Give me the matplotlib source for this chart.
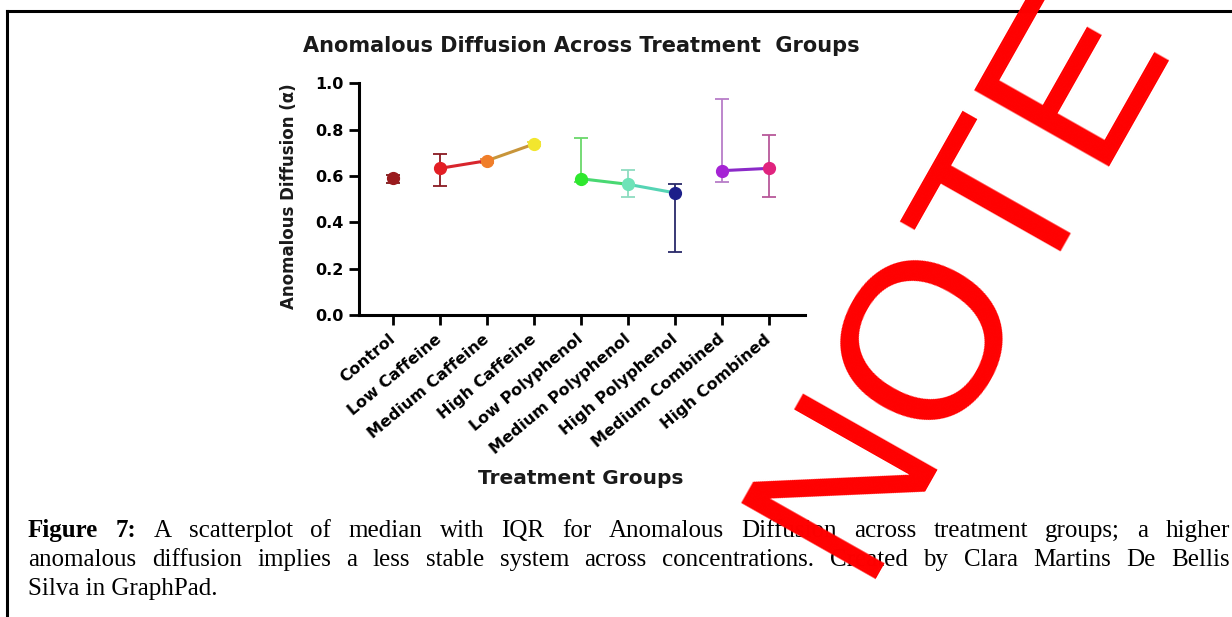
import matplotlib
matplotlib.use("Agg")
import matplotlib.pyplot as plt
from matplotlib.lines import Line2D

groups = ["Control", "Low Caffeine", "Medium Caffeine", "High Caffeine",
          "Low Polyphenol", "Medium Polyphenol", "High Polyphenol",
          "Medium Combined", "High Combined"]
medians = [0.593, 0.633, 0.666, 0.738, 0.588, 0.564, 0.527, 0.623, 0.633]
q1 = [0.568, 0.558, 0.655, 0.730, 0.575, 0.509, 0.273, 0.575, 0.508]
q3 = [0.603, 0.695, 0.672, 0.745, 0.763, 0.626, 0.564, 0.931, 0.776]
yticks = [0.0, 0.2, 0.4, 0.6, 0.8, 1.0]
# groups joined by a line (index pairs)
links = [(1, 2), (2, 3), (4, 5), (5, 6), (7, 8)]

point_colors = ["#9a1b1e", "#e31e24", "#f07e2a", "#f2e62e", "#2ee82e",
                "#6fe3b8", "#1c1f8a", "#a523d4", "#e0237e"]
bar_colors = ["#7a1a1a", "#8a1a22", "#e08a40", "#e8d840", "#6ad86a",
              "#8fdcc0", "#2a2a6a", "#b87dc8", "#b8589a"]
link_colors = ["#d8252d", "#c8953a", "#49d872", "#55d4b4", "#8b2ac8"]

W, H = 1232, 617
plt.rcParams["font.family"] = ["DejaVu Sans"]
fig = plt.figure(figsize=(W / 100, H / 100), dpi=100)
ax = fig.add_axes([359 / W, 1 - 315 / H, (805 - 359) / W, (315 - 83.3) / H])

x = list(range(len(groups)))
for i in x:
    ax.errorbar(i, medians[i], yerr=[[medians[i] - q1[i]], [q3[i] - medians[i]]],
                fmt="none", ecolor=bar_colors[i], elinewidth=1.3,
                capsize=5, capthick=1.3, zorder=2)
for (a, b), c in zip(links, link_colors):
    ax.plot([a, b], [medians[a], medians[b]], color=c, lw=2.2, zorder=3)
for i in x:
    ax.plot(i, medians[i], "o", ms=8.5, color=point_colors[i], mec=point_colors[i], zorder=4)

ax.set_ylim(0, 1.0)
ax.set_xlim(-0.72, 8.76)
ax.set_yticks(yticks)
ax.set_yticklabels([f"{v:.1f}" for v in yticks], fontsize=11.5, fontweight="bold")
ax.set_xticks(x)
ax.set_xticklabels(groups, rotation=40, ha="right", va="center",
                   rotation_mode="anchor", fontsize=11.5, fontweight="bold")
ax.tick_params(axis="both", length=7, width=2, color="black", pad=4)
ax.tick_params(axis="x", pad=9)
for s in ["top", "right"]:
    ax.spines[s].set_visible(False)
for s in ["left", "bottom"]:
    ax.spines[s].set_linewidth(2.2)

fig.text(289 / W, 1 - 196 / H, "Anomalous Diffusion (α)", rotation=90,
         ha="center", va="center", fontsize=12, fontweight="bold", color="#1a1a1a")
fig.text(581 / W, 1 - 46 / H, "Anomalous Diffusion Across Treatment  Groups",
         ha="center", va="center", fontsize=15, fontweight="bold", color="#1a1a1a")
fig.text(581 / W, 1 - 478 / H, "Treatment Groups", ha="center", va="center",
         fontsize=14.5, fontweight="bold", color="#1a1a1a")

# caption (justified like the source document)
renderer = fig.canvas.get_renderer()
cap_font = dict(family="Liberation Serif", fontsize=18, va="baseline")
line1 = [("Figure", "bold"), ("7:", "bold"), ("A", "normal"), ("scatterplot", "normal"),
         ("of", "normal"), ("median", "normal"), ("with", "normal"), ("IQR", "normal"),
         ("for", "normal"), ("Anomalous", "normal"), ("Diffusion", "normal"),
         ("across", "normal"), ("treatment", "normal"), ("groups;", "normal"),
         ("a", "normal"), ("higher", "normal")]
line2 = [(w, "normal") for w in
         "anomalous diffusion implies a less stable system across concentrations. "
         "Created by Clara Martins De Bellis".split()]


def justify(words, base_y, x0, x1):
    texts = [fig.text(0, 1 - base_y / H, w, fontweight=wt, **cap_font) for w, wt in words]
    widths = [t.get_window_extent(renderer).width for t in texts]
    gap = (x1 - x0 - sum(widths)) / (len(words) - 1)
    pos = x0
    for t, w in zip(texts, widths):
        t.set_x(pos / W)
        pos += w + gap


justify(line1, 537, 28, 1230)
justify(line2, 566, 28, 1230)
fig.text(28 / W, 1 - 595 / H, "Silva in GraphPad.", **cap_font)

# page frame
fig.add_artist(Line2D([7 / W, 1], [1 - 11 / H, 1 - 11 / H], color="black", lw=2.2))
fig.add_artist(Line2D([7 / W, 7 / W], [0, 1 - 11 / H], color="black", lw=2.2))

# red overlay stamp
fig.text(858 / W, 1 - 579 / H, "NOTE", family="Liberation Sans", rotation=60.5,
         rotation_mode="anchor", ha="left", va="baseline", fontsize=162,
         color="red", zorder=10)

fig.savefig("out.png", dpi=100)
